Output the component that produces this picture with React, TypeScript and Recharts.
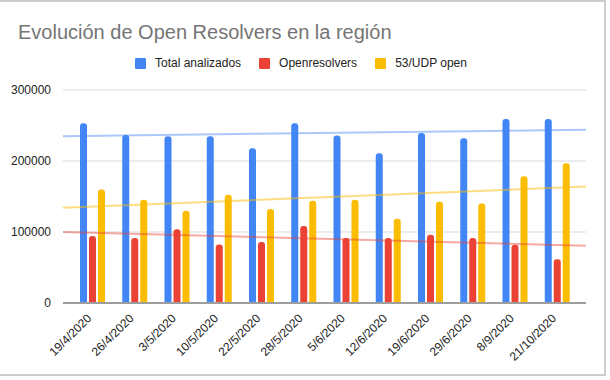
import React from 'react';
import {
  ComposedChart,
  Bar,
  Scatter,
  XAxis,
  YAxis,
  CartesianGrid,
  Legend,
  ReferenceLine,
} from 'recharts';

const dates = [
  '19/4/2020', '26/4/2020', '3/5/2020', '10/5/2020', '22/5/2020', '28/5/2020',
  '5/6/2020', '12/6/2020', '19/6/2020', '29/6/2020', '8/9/2020', '21/10/2020',
];
const totalAnalizados = [253000, 236500, 235000, 235000, 218000, 253000, 236000, 211000, 239500, 232000, 259000, 259000];
const openResolvers = [94500, 91500, 104000, 82500, 86000, 108500, 91500, 91500, 96000, 91500, 82000, 61500];
const udpOpen = [160000, 145500, 130000, 152500, 132500, 144000, 145500, 118500, 142500, 140000, 178500, 197000];

// trend line end values (left edge, right edge of the plot)
const totalTrend = [235000, 244000];
const openTrend = [100000, 80500];
const udpTrend = [134000, 164000];

const yTicks = [0, 100000, 200000, 300000];

const BLUE = '#4285f4';
const RED = '#ea4335';
const YELLOW = '#fbbc04';
const FONT = '"Liberation Sans", Arial, sans-serif';

const rows = dates.map((d, i) => ({
  date: d,
  total: totalAnalizados[i],
  open: openResolvers[i],
  udp: udpOpen[i],
}));

const toTrend = (vals: number[]) => [
  { x: 0, y: vals[0] },
  { x: 1, y: vals[1] },
];

const legendItems = [
  { label: 'Total analizados', color: BLUE },
  { label: 'Openresolvers', color: RED },
  { label: '53/UDP open', color: YELLOW },
];

const LegendContent = () => (
  <div
    style={{
      height: 40,
      display: 'flex',
      justifyContent: 'center',
      alignItems: 'flex-start',
      paddingTop: 6,
      paddingRight: 8,
      boxSizing: 'border-box',
      fontFamily: FONT,
      fontSize: 12,
      color: '#222',
    }}
  >
    {legendItems.map((it, i) => (
      <div key={it.label} style={{ display: 'flex', alignItems: 'center', marginLeft: i === 0 ? 0 : 18, height: 14 }}>
        <span style={{ width: 11, height: 11, background: it.color, borderRadius: 1, marginRight: 9 }} />
        <span>{it.label}</span>
      </div>
    ))}
  </div>
);

const DateTick = ({ x, y, payload }: any) => (
  <text
    x={x}
    y={y + 16}
    textAnchor="end"
    transform={`rotate(-45, ${x}, ${y + 16})`}
    fontFamily={FONT}
    fontSize={12}
    fill="#222"
  >
    {payload.value}
  </text>
);

const hidden = () => <g />;

export default function App() {
  return (
    <div style={{ position: 'absolute', left: 0, top: 0, width: 610, height: 380, overflow: 'hidden', background: '#fff' }}>
      <div
        style={{
          position: 'absolute',
          left: -10,
          top: 0,
          width: 616,
          height: 376,
          border: '2px solid #cccccc',
          boxSizing: 'border-box',
        }}
      />
      <div
        style={{
          position: 'absolute',
          left: 18,
          top: 21,
          fontFamily: FONT,
          fontSize: 20,
          color: '#757575',
          whiteSpace: 'nowrap',
        }}
      >
        Evolución de Open Resolvers en la región
      </div>
      <ComposedChart
        width={610}
        height={380}
        data={rows}
        margin={{ top: 50, right: 24, bottom: 0, left: 0 }}
        barSize={7}
        barGap={2}
      >
        <CartesianGrid vertical={false} stroke="#d9d9d9" />
        <XAxis
          dataKey="date"
          interval={0}
          tickLine={false}
          axisLine={false}
          tickSize={0}
          tickMargin={0}
          height={77}
          padding={{ left: 8, right: 8 }}
          tick={<DateTick />}
        />
        <XAxis xAxisId="t" type="number" dataKey="x" domain={[0, 1]} hide />
        <YAxis
          domain={[0, 300000]}
          ticks={yTicks}
          width={63}
          axisLine={false}
          tickLine={false}
          tickMargin={6}
          tick={{ fontFamily: FONT, fontSize: 12, fill: '#222' }}
        />
        <Legend verticalAlign="top" wrapperStyle={{ left: 0, width: 610 }} content={<LegendContent />} />
        <Bar dataKey="total" name="Total analizados" fill={BLUE} radius={[3, 3, 0, 0]} isAnimationActive={false} />
        <Bar dataKey="open" name="Openresolvers" fill={RED} radius={[3, 3, 0, 0]} isAnimationActive={false} />
        <Bar dataKey="udp" name="53/UDP open" fill={YELLOW} radius={[3, 3, 0, 0]} isAnimationActive={false} />
        <ReferenceLine y={0} stroke="#9e9e9e" strokeWidth={2} />
        <Scatter
          xAxisId="t"
          data={toTrend(totalTrend)}
          dataKey="y"
          line={{ stroke: BLUE, strokeWidth: 2, strokeOpacity: 0.45 }}
          shape={hidden}
          legendType="none"
          isAnimationActive={false}
        />
        <Scatter
          xAxisId="t"
          data={toTrend(openTrend)}
          dataKey="y"
          line={{ stroke: RED, strokeWidth: 2, strokeOpacity: 0.45 }}
          shape={hidden}
          legendType="none"
          isAnimationActive={false}
        />
        <Scatter
          xAxisId="t"
          data={toTrend(udpTrend)}
          dataKey="y"
          line={{ stroke: YELLOW, strokeWidth: 2, strokeOpacity: 0.5 }}
          shape={hidden}
          legendType="none"
          isAnimationActive={false}
        />
      </ComposedChart>
    </div>
  );
}
